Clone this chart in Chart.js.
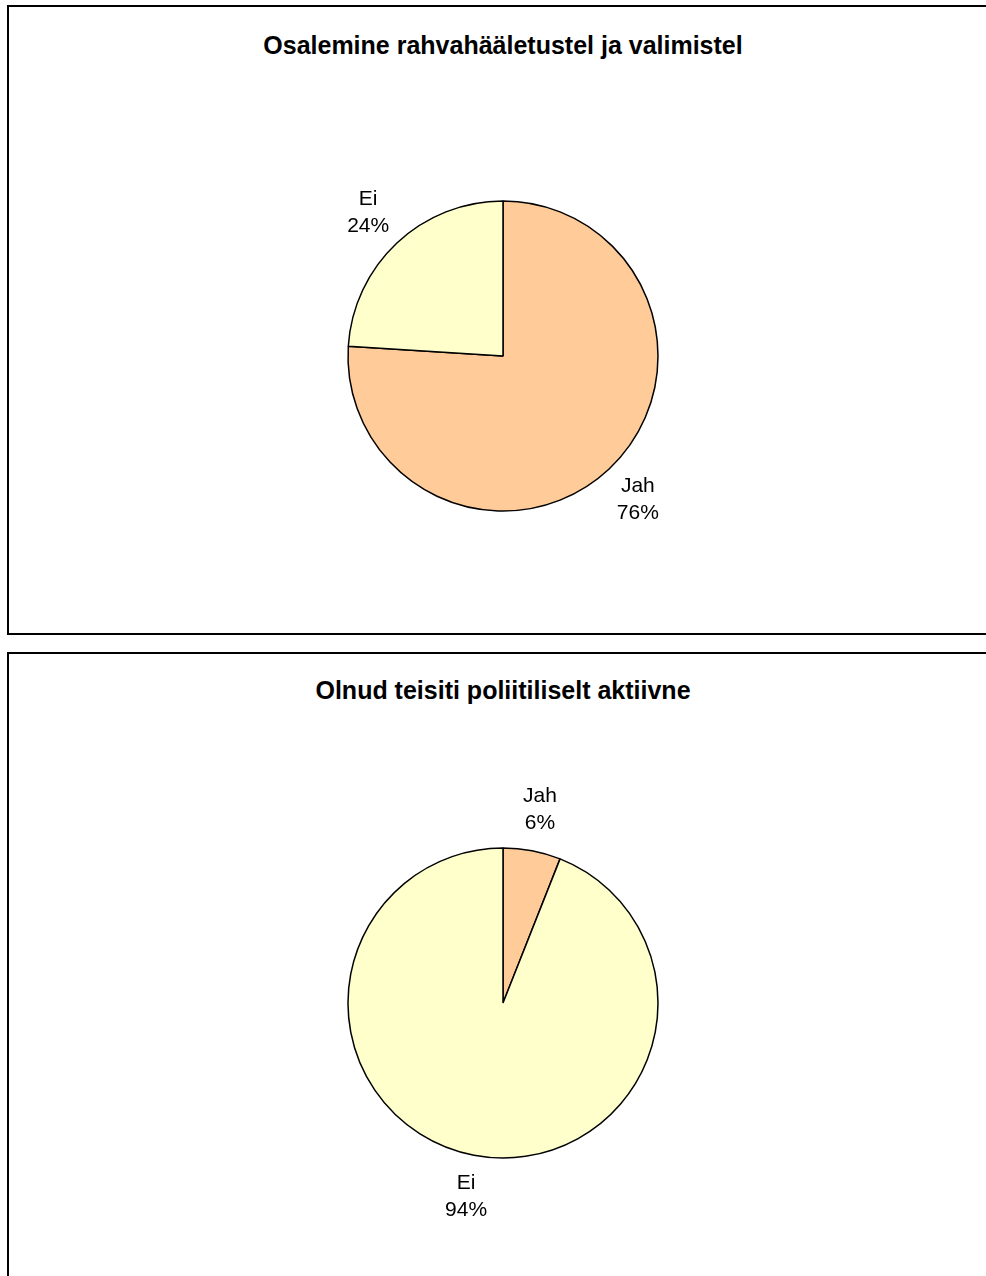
<!DOCTYPE html>
<html>
<head>
<meta charset="utf-8">
<title>Osalemine</title>
<script src="https://cdn.jsdelivr.net/npm/chart.js@4.4.0/dist/chart.umd.min.js"></script>
<style>
  body { margin: 0; background: #fff; overflow: hidden; width: 986px; height: 1276px; position: relative; }
  .panel { position: absolute; left: 7px; width: 990px; border: 2px solid #000; background: #fff; }
  .title { position: absolute; left: 0; width: 988px; text-align: center; font: bold 25px "Liberation Sans", Arial, sans-serif; line-height: 28px; color: #000; }
  .panel canvas { position: absolute; left: 0; }
</style>
</head>
<body>
<div class="panel" id="p1" style="top:5px;height:626px;">
  <div class="title" style="top:24px;">Osalemine rahvahääletustel ja valimistel</div>
  <canvas id="chart1" width="988" height="480" style="top:109px;"></canvas>
</div>
<div class="panel" id="p2" style="top:652px;height:640px;border-bottom:none;">
  <div class="title" style="top:22px;">Olnud teisiti poliitiliselt aktiivne</div>
  <canvas id="chart2" width="988" height="480" style="top:109px;"></canvas>
</div>
<script>
// data
var categories = ["Jah", "Ei"];
var osalemine = [76, 24];
var aktiivne = [6, 94];
var colors = ["#FFCC99", "#FFFFCC"];

// draws "Jah / 76%" outside each slice
var outsideLabels = {
  id: 'outsideLabels',
  afterDatasetsDraw: function(chart) {
    var ctx = chart.ctx;
    var meta = chart.getDatasetMeta(0);
    var data = chart.data.datasets[0].data;
    ctx.save();
    ctx.fillStyle = '#000';
    ctx.font = '21px "Liberation Sans", Arial, sans-serif';
    ctx.textAlign = 'center';
    ctx.textBaseline = 'middle';
    meta.data.forEach(function(arc, i) {
      var p = arc.getProps(['x', 'y', 'startAngle', 'endAngle', 'outerRadius'], true);
      var mid = (p.startAngle + p.endAngle) / 2;
      var r = p.outerRadius + 42;
      var x = p.x + Math.cos(mid) * r;
      var y = p.y + Math.sin(mid) * r;
      ctx.fillText(chart.data.labels[i], x, y - 13);
      ctx.fillText(data[i] + '%', x, y + 14);
    });
    ctx.restore();
  }
};

function makePie(id, values) {
  var ctx = document.getElementById(id).getContext('2d');
  return new Chart(ctx, {
    type: 'pie',
    data: {
      labels: categories,
      datasets: [{
        data: values,
        backgroundColor: colors,
        borderColor: '#000',
        borderWidth: 1.5,
        radius: 155
      }]
    },
    options: {
      responsive: false,
      animation: false,
      layout: { padding: 0 },
      plugins: {
        legend: { display: false },
        tooltip: { enabled: false },
        title: { display: false }
      }
    },
    plugins: [outsideLabels]
  });
}

makePie('chart1', osalemine);
makePie('chart2', aktiivne);
</script>
</body>
</html>
